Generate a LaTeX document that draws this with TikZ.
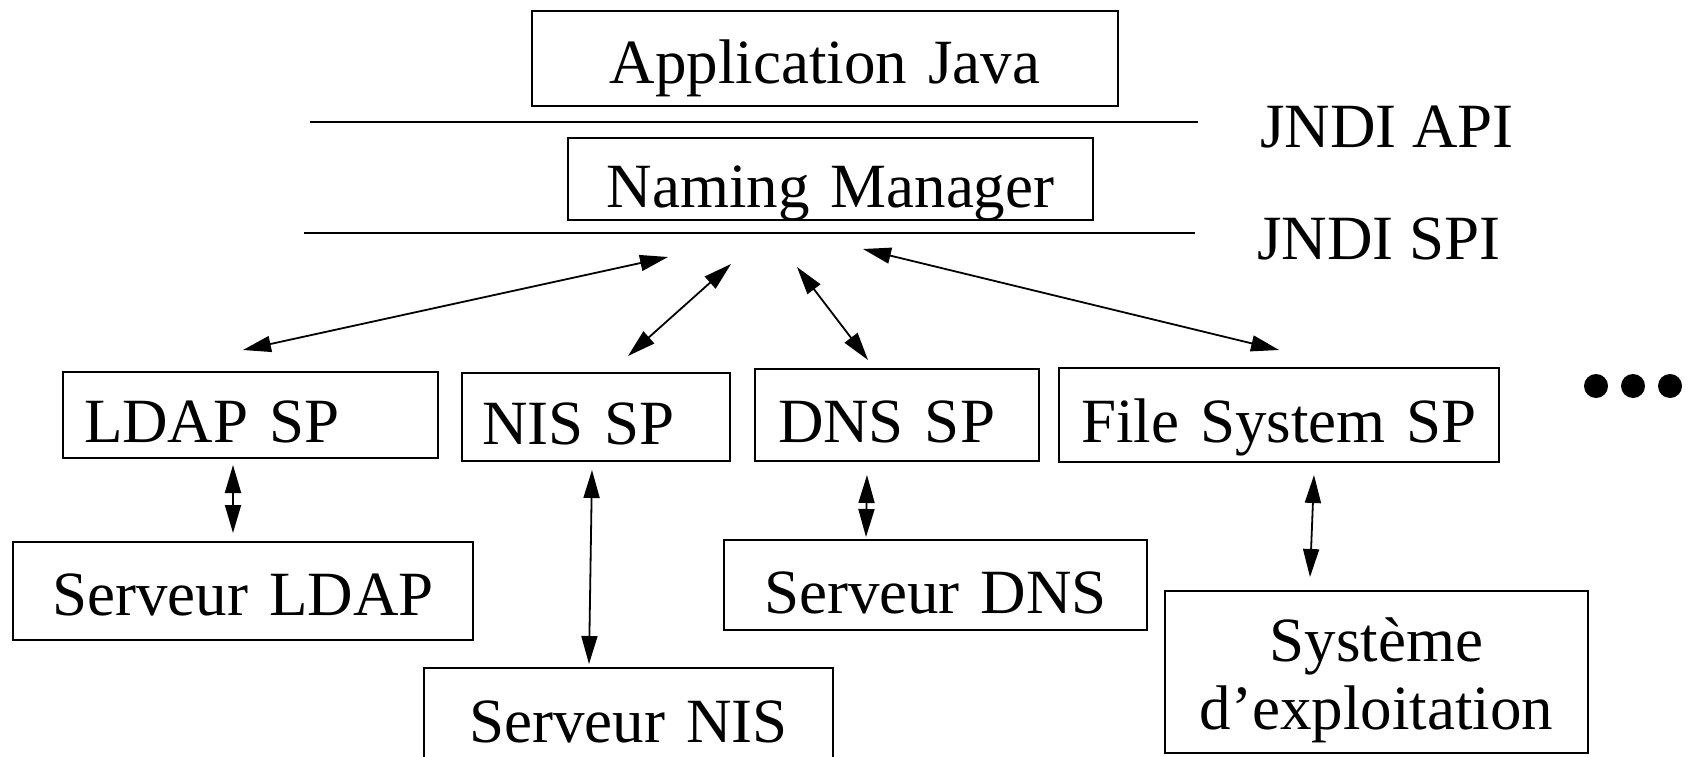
\documentclass[tikz,border=0pt]{standalone}
\usepackage{fontspec}
\setmainfont{Liberation Serif}
\usepackage{tikz}
\usetikzlibrary{positioning,calc,arrows.meta}

\begin{document}
\begin{tikzpicture}[x=1pt, y=-1pt,
    font=\fontsize{63}{68}\selectfont,
    box/.style={draw, line width=2pt, inner ysep=0pt, anchor=north west},
    layer/.style={line width=2.4pt},
    link/.style={{Triangle[length=28pt,width=16pt]}-{Triangle[length=28pt,width=16pt]}, line width=1.8pt}]
    \useasboundingbox (0,0) rectangle (1689,757);

    % Application and naming manager
    \node[box, inner xsep=20pt, text width=546pt, align=center, text height=73pt, text depth=22pt] (app) at (531,10) {Application Java};
    \node[box, inner xsep=20pt, text width=485pt, align=center, text height=69pt, text depth=13pt] (nm) at (567,137) {Naming Manager};

    % API / SPI layers
    \draw[layer] (310,122) -- (1198,122);
    \draw[layer] (304,233) -- (1195,233);
    \node[anchor=base west, inner sep=0pt] (api) at (1260,147) {JNDI API};
    \node[anchor=base west, inner sep=0pt] (spi) at (1257,259) {JNDI SPI};

    % Service providers
    \node[box, inner xsep=21pt, text width=333pt, align=left, text height=70pt, text depth=16pt] (ldapsp) at (62,371) {\mbox{LDAP SP}};
    \node[box, inner xsep=20pt, text width=228pt, align=left, text height=71pt, text depth=17pt] (nissp) at (461,372) {\mbox{NIS SP}};
    \node[box, inner xsep=23pt, text width=238pt, align=left, text height=73pt, text depth=19pt] (dnssp) at (754,368) {\mbox{DNS SP}};
    \node[box, inner xsep=22pt, text width=396pt, align=left, text height=74pt, text depth=20pt] (fssp) at (1058,367) {\mbox{File System SP}};
    \foreach \x in {1596,1633,1670}
        \fill (\x,386) circle (12pt);

    % Servers
    \node[box, inner xsep=20pt, text width=420pt, align=center, text height=73pt, text depth=25pt] (sldap) at (12,541) {Serveur LDAP};
    \node[box, inner xsep=20pt, text width=369pt, align=center, text height=74pt, text depth=39pt] (snis) at (423,667) {Serveur NIS};
    \node[box, inner xsep=20pt, text width=383pt, align=center, text height=73pt, text depth=17pt] (sdns) at (723,539) {Serveur DNS};
    \node[box, inner xsep=20pt, text width=383pt, align=center, text height=70pt, text depth=92pt] (sys) at (1164,590) {Système\\d’exploitation};

    % Ends under the SPI line
    \coordinate (up1) at (668,257);
    \coordinate (up2) at (731,264);
    \coordinate (up3) at (797,267);
    \coordinate (up4) at (863,249);

    % Providers to naming manager
    \draw[link] ([xshift=-7.5pt,yshift=21pt]ldapsp.north) -- (up1);
    \draw[link] ([xshift=32pt,yshift=16pt]nissp.north) -- (up2);
    \draw[link] ([xshift=-29pt,yshift=8pt]dnssp.north) -- (up3);
    \draw[link] ([yshift=17pt]fssp.north) -- (up4);

    % Providers to servers
    \draw[link] ([xshift=-17.5pt,yshift=-6pt]ldapsp.south) -- ([xshift=-10pt,yshift=8pt]sldap.north);
    \draw[link] ([xshift=-4pt,yshift=-8pt]nissp.south) -- ([xshift=-39.5pt,yshift=3pt]snis.north);
    \draw[link] ([xshift=-30pt,yshift=-13pt]dnssp.south) -- ([xshift=-69.5pt,yshift=2pt]sdns.north);
    \draw[link] ([xshift=35pt,yshift=-12pt]fssp.south) -- ([xshift=-66.5pt,yshift=13pt]sys.north);
\end{tikzpicture}
\end{document}
